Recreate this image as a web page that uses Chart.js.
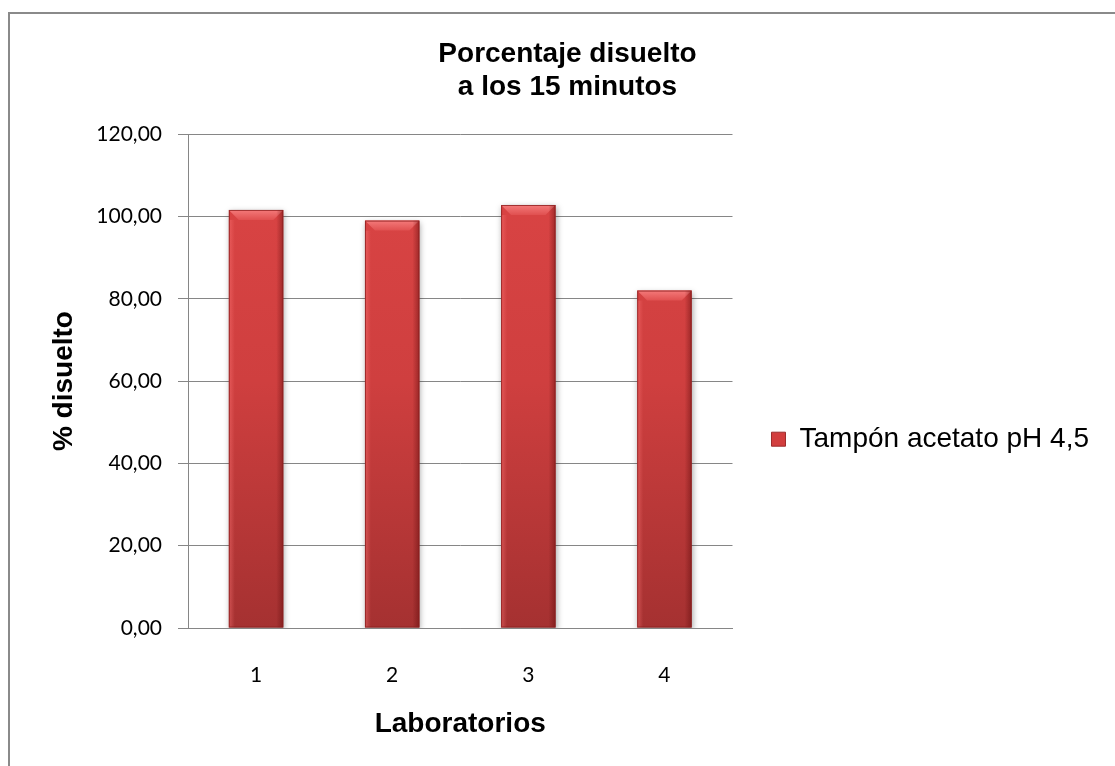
<!DOCTYPE html>
<html>
<head>
<meta charset="utf-8">
<script src="https://cdn.jsdelivr.net/npm/chart.js@4.4.1/dist/chart.umd.min.js"></script>
<style>
  html, body { margin: 0; padding: 0; background: #fff; overflow: hidden; }
  #wrap { width: 1115px; height: 766px; }
</style>
</head>
<body>
<div id="wrap"><canvas id="chart" width="1115" height="766"></canvas></div>
<script>
// Porcentaje disuelto a los 15 minutos por laboratorio
const laboratorios = ['1', '2', '3', '4'];
const tamponAcetato = [101.6, 99.0, 102.8, 82.0];
const serieNombre = 'Tampón acetato pH 4,5';
const yMin = 0;
const yMax = 120;
const yStep = 20;

const gridGray = '#868686';

// gray frame around the whole chart (runs off the right and bottom edges)
const chartFrame = {
  id: 'chartFrame',
  beforeDraw(chart) {
    const ctx = chart.ctx;
    ctx.save();
    ctx.fillStyle = '#fff';
    ctx.fillRect(0, 0, chart.width, chart.height);
    ctx.strokeStyle = '#8a8a8a';
    ctx.lineWidth = 2;
    ctx.strokeRect(9, 13, chart.width + 40, chart.height + 40);
    ctx.restore();
  }
};

// title is centred on the full frame, which is a bit wider than the canvas
const titleShift = {
  id: 'titleShift',
  afterLayout(chart) {
    if (chart.titleBlock) {
      chart.titleBlock.left += 8;
      chart.titleBlock.right += 8;
    }
  }
};

// soft shadow under the bars plus a bevelled top and sides
const barBevel = {
  id: 'barBevel',
  beforeDatasetsDraw(chart) {
    const ctx = chart.ctx;
    ctx.save();
    ctx.shadowColor = 'rgba(0,0,0,0.35)';
    ctx.shadowBlur = 6;
    ctx.shadowOffsetX = 1;
    ctx.shadowOffsetY = 2;
  },
  afterDatasetsDraw(chart) {
    const ctx = chart.ctx;
    ctx.restore();
    const meta = chart.getDatasetMeta(0);
    meta.data.forEach((bar) => {
      const { x, y, base, width } = bar.getProps(['x', 'y', 'base', 'width'], true);
      const l = x - width / 2;
      const r = x + width / 2;
      const b = 10;
      ctx.save();
      // top bevel
      ctx.beginPath();
      ctx.moveTo(l, y);
      ctx.lineTo(r, y);
      ctx.lineTo(r - b, y + b);
      ctx.lineTo(l + b, y + b);
      ctx.closePath();
      let g = ctx.createLinearGradient(0, y, 0, y + b);
      g.addColorStop(0, '#f47a7a');
      g.addColorStop(1, '#e05050');
      ctx.fillStyle = g;
      ctx.fill();
      // left edge, a little lighter
      g = ctx.createLinearGradient(l, 0, l + 6, 0);
      g.addColorStop(0, 'rgba(255,120,120,0.45)');
      g.addColorStop(1, 'rgba(255,120,120,0)');
      ctx.fillStyle = g;
      ctx.fillRect(l, y + b, 6, base - y - b);
      // right edge, darker
      g = ctx.createLinearGradient(r - 7, 0, r, 0);
      g.addColorStop(0, 'rgba(90,10,10,0)');
      g.addColorStop(1, 'rgba(90,10,10,0.45)');
      ctx.fillStyle = g;
      ctx.fillRect(r - 7, y, 7, base - y);
      // thin outline
      ctx.strokeStyle = 'rgba(140,30,30,0.8)';
      ctx.lineWidth = 1;
      ctx.strokeRect(l + 0.5, y + 0.5, width - 1, base - y - 1);
      ctx.restore();
    });
  }
};

function barFill(context) {
  const area = context.chart.chartArea;
  if (!area) return '#d44040';
  const g = context.chart.ctx.createLinearGradient(0, area.top, 0, area.bottom);
  g.addColorStop(0, '#dc4545');
  g.addColorStop(0.5, '#cf3f3f');
  g.addColorStop(1, '#a53131');
  return g;
}

const ctx = document.getElementById('chart').getContext('2d');
new Chart(ctx, {
  type: 'bar',
  data: {
    labels: laboratorios,
    datasets: [{
      label: serieNombre,
      data: tamponAcetato,
      backgroundColor: barFill,
      borderWidth: 0,
      barPercentage: 0.4,
      categoryPercentage: 1.0
    }]
  },
  options: {
    responsive: false,
    animation: false,
    layout: {
      padding: { left: 20, right: 16, top: 0, bottom: 0 }
    },
    plugins: {
      title: {
        display: true,
        text: ['Porcentaje disuelto', 'a los 15 minutos'],
        color: '#000',
        font: { family: 'Liberation Sans', size: 28, weight: 'bold', lineHeight: 1.2 },
        padding: { top: 37, bottom: 30 }
      },
      legend: {
        position: 'right',
        align: 'center',
        maxWidth: 420,
        title: {
          display: true,
          text: '',
          font: { size: 12 },
          padding: { top: 98, bottom: 0 }
        },
        labels: {
          color: '#000',
          boxWidth: 14,
          boxHeight: 14,
          padding: 39,
          font: { family: 'Liberation Sans', size: 28 },
          generateLabels(chart) {
            const items = Chart.defaults.plugins.legend.labels.generateLabels(chart);
            items.forEach((item) => {
              item.fillStyle = '#d23e3e';
              item.strokeStyle = '#9c2c2c';
              item.lineWidth = 1;
            });
            return items;
          }
        }
      },
      tooltip: { enabled: false }
    },
    scales: {
      x: {
        grid: { display: false },
        border: { display: true, color: gridGray, width: 1 },
        ticks: {
          color: '#000',
          padding: 27,
          font: { family: 'Lato', size: 21 }
        },
        title: {
          display: true,
          text: 'Laboratorios',
          color: '#000',
          font: { family: 'Liberation Sans', size: 28, weight: 'bold', lineHeight: 1.2 },
          padding: { top: 0, bottom: 25 }
        },
        afterFit(scale) {
          scale.height = 138;
        }
      },
      y: {
        min: yMin,
        max: yMax,
        grid: {
          color: gridGray,
          lineWidth: 1,
          drawTicks: true,
          tickLength: 10,
          tickColor: gridGray
        },
        border: { display: true, color: gridGray, width: 1 },
        ticks: {
          stepSize: yStep,
          color: '#000',
          padding: 16,
          font: { family: 'Lato', size: 21 },
          callback: function(value) {
            return value.toFixed(2).replace('.', ',');
          }
        },
        title: {
          display: true,
          text: '% disuelto',
          color: '#000',
          font: { family: 'Liberation Sans', size: 28, weight: 'bold', lineHeight: 1.2 },
          padding: { top: 27, bottom: 0 }
        },
        afterFit(scale) {
          scale.width = 168;
        }
      }
    }
  },
  plugins: [chartFrame, titleShift, barBevel]
});
</script>
</body>
</html>
